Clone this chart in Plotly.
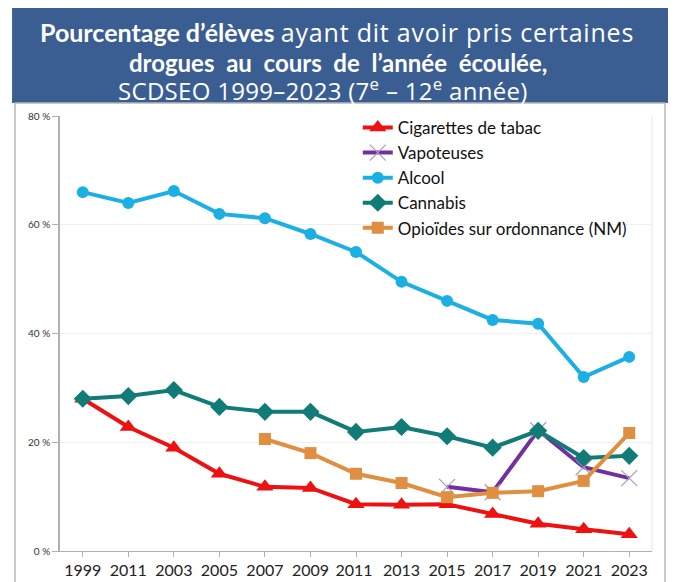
import plotly.graph_objects as go

# Categories as printed on the chart (the second label really reads 2011)
annees = ["1999", "2011", "2003", "2005", "2007", "2009", "2011 ", "2013",
          "2015", "2017", "2019", "2021", "2023"]

cigarettes = [28.0, 22.8, 19.0, 14.2, 11.8, 11.6, 8.6, 8.5, 8.6, 6.8, 5.0, 4.0, 3.1]
vapoteuses = [None, None, None, None, None, None, None, None, 11.8, 10.8, 22.2, 15.4, 13.4]
alcool = [66.0, 64.0, 66.2, 62.0, 61.2, 58.3, 55.0, 49.5, 46.0, 42.5, 41.8, 32.0, 35.7]
cannabis = [28.0, 28.5, 29.6, 26.5, 25.6, 25.6, 21.9, 22.8, 21.1, 19.0, 22.1, 17.1, 17.5]
opioides = [None, None, None, None, 20.6, 18.0, 14.2, 12.5, 9.9, 10.7, 11.0, 12.9, 21.7]

y_ticks = [0, 20, 40, 60, 80]
y_labels = ["0 %", "20 %", "40 %", "60 %", "80 %"]

fig = go.Figure()

# series in Excel order, later ones drawn on top
fig.add_trace(go.Scatter(x=annees, y=cigarettes, name="Cigarettes de tabac", mode="lines+markers",
                         line=dict(color="#ee1111", width=4),
                         marker=dict(symbol="triangle-up", size=15, color="#ee1111")))
fig.add_trace(go.Scatter(x=annees, y=vapoteuses, name="Vapoteuses", mode="lines+markers",
                         line=dict(color="#7030a0", width=4),
                         marker=dict(symbol="x-thin", size=16, color="#a89ac0",
                                     line=dict(color="#a89ac0", width=1.2))))
fig.add_trace(go.Scatter(x=annees, y=alcool, name="Alcool", mode="lines+markers",
                         line=dict(color="#1cafe3", width=4),
                         marker=dict(symbol="circle", size=12, color="#1cafe3")))
fig.add_trace(go.Scatter(x=annees, y=cannabis, name="Cannabis", mode="lines+markers",
                         line=dict(color="#117b77", width=4),
                         marker=dict(symbol="diamond", size=14, color="#117b77")))
fig.add_trace(go.Scatter(x=annees, y=opioides, name="Opioïdes sur ordonnance (NM)", mode="lines+markers",
                         line=dict(color="#e08e40", width=4),
                         marker=dict(symbol="square", size=12, color="#e08e40")))

# blue title banner and grey frame of the chart panel
fig.add_shape(type="rect", xref="paper", yref="paper", x0=-0.081, x1=1.027, y0=1.030, y1=1.248,
              fillcolor="#3a5e92", line=dict(width=0), layer="below")
fig.add_shape(type="rect", xref="paper", yref="paper", x0=-0.076, x1=1.022, y0=-0.075, y1=1.030,
              fillcolor="rgba(0,0,0,0)", line=dict(color="#b8b8b8", width=1.5), layer="below")
fig.add_shape(type="line", xref="paper", yref="paper", x0=1, x1=1, y0=0, y1=1,
              line=dict(color="#e6e6e6", width=1), layer="below")

leger = "<span style=\"font-family:'Open Sans';letter-spacing:{}px\">"
titre = [
    ("<b>Pourcentage d’élèves</b> " + leger.format(0.8) + "ayant dit avoir pris certaines</span>",
     0.468, 1.194, 25),
    ("<b>drogues  au  cours  de  l’année  écoulée,</b>", 0.47, 1.124, 24),
    (leger.format(0.3) + "SCDSEO 1999–2023 (7<sup>e</sup> – 12<sup>e</sup> année)</span>",
     0.445, 1.06, 24),
]
for txt, xx, yy, sz in titre:
    fig.add_annotation(text=txt, xref="paper", yref="paper", x=xx, y=yy, showarrow=False,
                       xanchor="center", yanchor="middle",
                       font=dict(family="Lato", size=sz, color="white"))

fig.update_layout(
    width=675, height=582,
    margin=dict(l=60, r=23, t=116, b=31),
    paper_bgcolor="white", plot_bgcolor="white",
    font=dict(family="Lato", color="#222"),
    showlegend=True,
    legend=dict(x=0.503, y=1.014, xanchor="left", yanchor="top", bgcolor="rgba(255,255,255,0)",
                font=dict(family="Lato", size=17, color="#111"), itemwidth=30, tracegroupgap=0),
    xaxis=dict(type="category", range=[-0.5, 12.5], showgrid=False, showline=True,
               linecolor="#b0b0b0", linewidth=1, ticks="outside", ticklen=5, tickcolor="#b0b0b0",
               tickfont=dict(size=16, color="#222"), automargin=False),
    yaxis=dict(range=[0, 80], tickvals=y_ticks, ticktext=y_labels, showgrid=True,
               gridcolor="#f0f0f0", showline=True, linecolor="#b0b0b0", linewidth=1.5,
               ticks="outside", ticklen=6, tickcolor="#b0b0b0", zeroline=False,
               tickfont=dict(size=10, color="#333"), automargin=False),
)

# the page body has a default 8px margin; remove it so the figure fills the window
fig.write_html("out.html", config={"displayModeBar": False},
               post_script="document.body.style.margin='0';")
